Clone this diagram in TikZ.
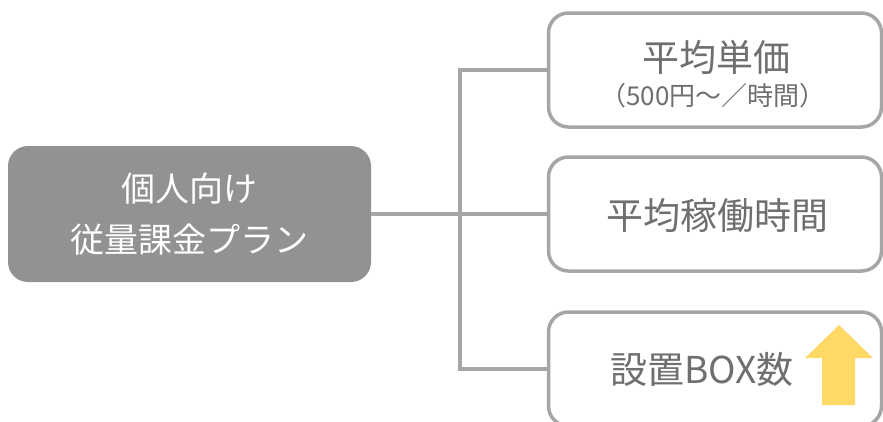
\documentclass[tikz,border=0pt]{standalone}
\usepackage{fontspec}
\setmainfont{Noto Sans CJK JP}
\definecolor{lineg}{HTML}{A6A6A6}
\definecolor{boxfill}{HTML}{929292}
\definecolor{txtg}{HTML}{6F6F6F}
\definecolor{arrowy}{HTML}{FFD966}
\tikzset{
  conn/.style={draw=lineg, line width=3.5pt},
  mainbox/.style={fill=boxfill, draw=none, rounded corners=20pt, minimum width=363pt, minimum height=136pt, inner sep=0pt, text=white, align=center, font=\fontsize{34}{51}\selectfont},
  subbox/.style={draw=lineg, line width=3.5pt, fill=white, rounded corners=20pt, minimum width=333pt, minimum height=114pt, inner sep=0pt, text=txtg, align=center},
  bigtxt/.style={text=txtg, inner sep=0pt, font=\fontsize{37}{44}\selectfont},
  smalltxt/.style={text=txtg, inner sep=0pt, font=\fontsize{26}{30}\selectfont},
}
\begin{document}
\begin{tikzpicture}[x=1pt, y=-1pt]
\useasboundingbox (0,0) rectangle (883,421);
\clip (0,0) rectangle (883,421);
\node[mainbox] (L) at (189.5,214) {個人向け\\従量課金プラン};
\node[subbox] (b1) at (715,70) {};
\node[subbox] (b2) at (715,214) {};
\node[subbox] (b3) at (715,369) {};
\node[bigtxt] (t1) at (716,57) {平均単価};
\node[smalltxt] (t1s) at (713,96) {（500円～／時間）};
\node[bigtxt] (t2) at (717,216) {平均稼働時間};
\node[bigtxt] (t3) at (702,369) {設置BOX数};
\coordinate (j) at (460,214);
\draw[conn] (L.east) -- (j);
\draw[conn] (b1.west) -| (j) |- (b3.west);
\draw[conn] (j) -- (b2.west);
\fill[arrowy] (805,358) -- (839,325) -- (873,358) -- (855,358) -- (855,405) -- (822,405) -- (822,358) -- cycle;
\end{tikzpicture}
\end{document}
